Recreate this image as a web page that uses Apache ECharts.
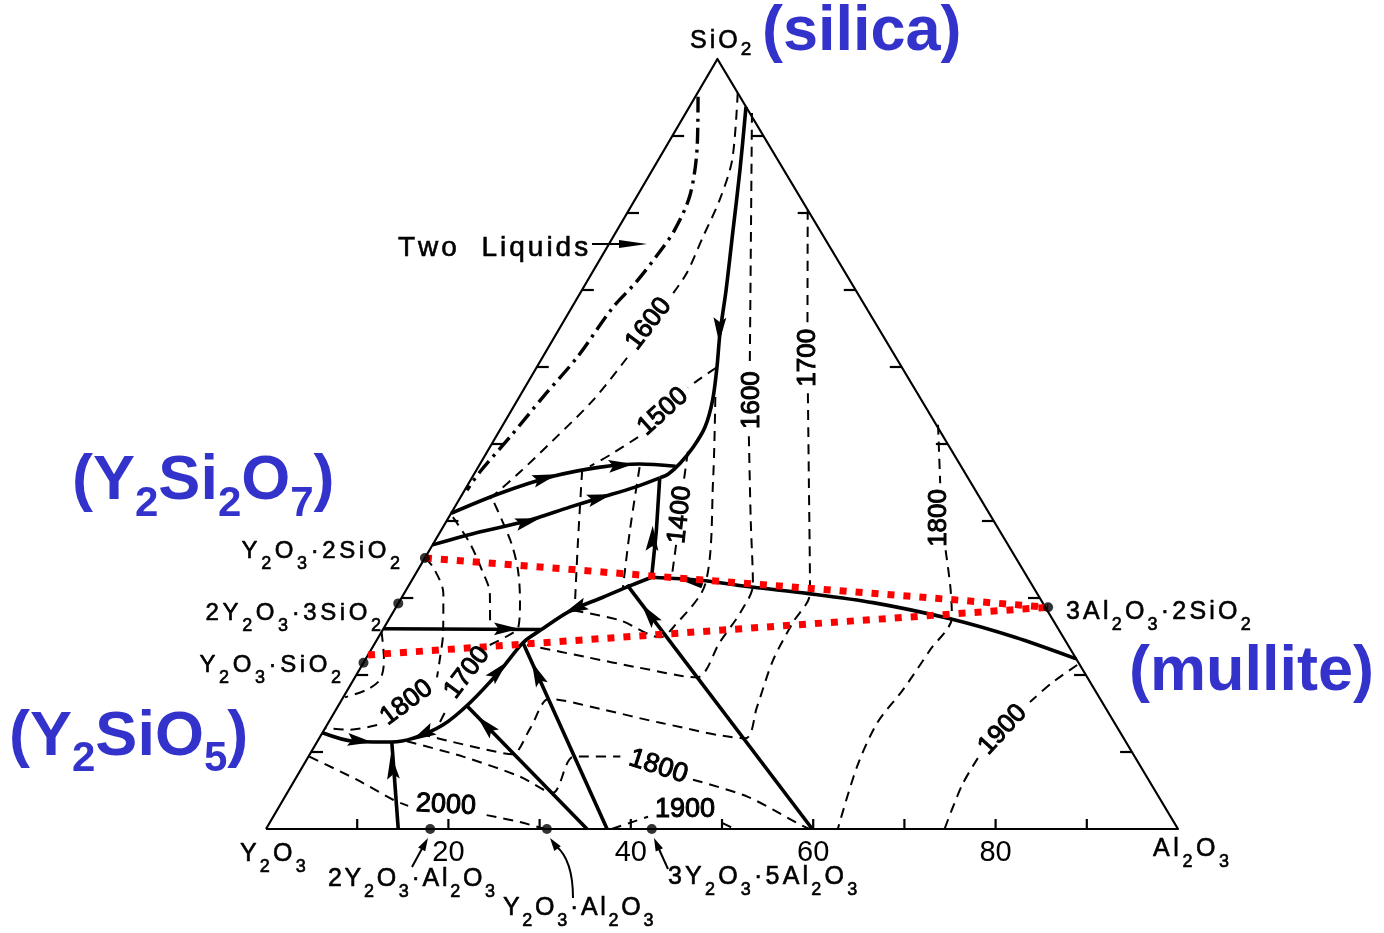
<!DOCTYPE html>
<html>
<head>
<meta charset="utf-8">
<title>Y2O3-Al2O3-SiO2 liquidus</title>
<script src="https://cdn.jsdelivr.net/npm/echarts@6.0.0/dist/echarts.min.js"></script>
<style>
html,body{margin:0;padding:0;background:#ffffff;}
#chart{width:1384px;height:933px;}
</style>
</head>
<body>
<div id="chart"></div>
<script>
// ===== DATA: compositions in wt% as [Al2O3, SiO2]; Y2O3 is the remainder =====
const sideTicks = [10, 20, 30, 40, 50, 60, 70, 80, 90];
const axisTickLabels = [20, 40, 60, 80];

const compoundComp = [[0, 35.2], [0, 29.3], [0, 21.6], [18.0, 0], [30.8, 0], [42.3, 0], [71.5, 28.8]];
const tieUpper = [[0, 35.2], [71.5, 28.8]];
const tieLower = [[0, 22.6], [71.5, 28.8]];

// solid boundary curves
const bSilica = [[6.2, 93.8], [9.6, 85.6], [12.7, 77.8], [15.8, 70.0], [17.9, 64.4], [19.75, 60.0], [21.4, 55.7], [22.3, 52.2], [22.3, 49.6], [21.9, 47.5], [21.3, 46.1], [20.6, 45.6]];
const bUpper = [[0, 41.0], [4.1, 43.6], [8.8, 45.8], [13.4, 47.0], [17.5, 47.4], [21.6, 47.1]];
const bLower = [[0, 36.9], [4.4, 38.6], [8.8, 40.0], [12.6, 41.8], [15.3, 43.0], [18.5, 44.4], [20.6, 45.6]];
const bRise = [[26.1, 32.7], [23.6, 38.8], [20.6, 45.6]];
const bHoriz = [[0, 26.0], [17.3, 25.9]];
const bCurve = [[0, 12.5], [3.9, 11.4], [8.2, 11.3], [10.3, 11.8], [12.7, 13.5], [14.25, 16.4], [15.5, 20.6], [16.2, 24.2], [17.3, 25.8], [19.3, 28.3], [22.05, 30.1], [24.3, 31.6], [26.1, 32.7]];
const bMullite = [[26.1, 32.7], [31.6, 32.3], [37.9, 31.4], [44.2, 30.6], [52.0, 29.4], [61.5, 27.3], [69.8, 24.9], [77.9, 22.1]];
const bY2O3 = [[14.5, 0], [8.2, 11.3]];
const bLineA = [[35.2, 0], [14.1, 16.0]];
const bLineB = [[37.4, 0], [16.2, 24.2]];
const bLineC = [[59.9, 0], [23.9, 31.7]];
const bWedge = [[29.85, 32.5], [32.2, 31.6]];

// two-liquid dome (dash-dot)
const twoLiquid = [[0.3, 95.1], [3.6, 88.2], [5.75, 82.3], [6.3, 77.8], [6.0, 74.5], [5.4, 70.9], [4.5, 67.7], [3.8, 61.3], [2.6, 56.1], [1.55, 50.9], [0.5, 46.4], [0.26, 44.0]];

// isotherms (dashed), split where the temperature label sits
const iso1600a = [[[4.4, 95.6], [8.1, 86.9], [9.3, 81.7], [9.85, 76.9], [10.4, 72.2], [10.2, 69.6]], [[9.3, 61.2], [8.3, 55.7], [6.5, 50.5], [4.75, 46.0], [3.3, 42.9]]];
const iso1500 = [[[19.7, 59.9], [18.45, 58.2], [17.9, 57.3]], [[15.6, 50.9], [13.7, 48.6], [12.2, 47.1]]];
const iso1400 = [[[22.0, 49.0], [23.4, 45.3]], [[26.7, 36.9], [28.3, 32.7]]];
const isoInner = [[[21.5, 56.1], [26.6, 45.3], [32.4, 31.9], [31.7, 26.2], [30.9, 24.9], [25.4, 27.1], [19.6, 28.4]]];
const iso1600b = [[[7.25, 93.0], [15.3, 76.5], [23.2, 60.3]], [[27.7, 51.0], [33.3, 40.1], [37.7, 31.7], [38.1, 28.1], [37.75, 24.3], [37.5, 19.7], [30.3, 21.0], [24.2, 22.3], [16.8, 23.9]]];
const iso1700b = [[[19.6, 80.4], [26.8, 65.8]], [[31.4, 56.6], [37.1, 45.3], [44.5, 30.6], [44.5, 26.8], [44.75, 21.9], [46.0, 15.8], [46.7, 11.8], [36.4, 13.8], [28.9, 15.6], [22.7, 16.9], [22.5, 13.1], [22.2, 9.7], [19.1, 10.3], [14.9, 11.3], [11.0, 12.3]]];
const iso1800r = [[[47.7, 52.5], [51.7, 44.9]], [[56.6, 36.2], [59.5, 31.4], [61.6, 27.5], [61.3, 23.2], [60.9, 18.1], [60.2, 13.8], [60.8, 8.1], [62.7, 0]]];
const iso1900r = [[[78.4, 21.3], [76.8, 19.0], [75.6, 16.5]], [[73.5, 9.2], [73.5, 5.7], [74.4, 0]]];
const iso1800b = [[[9.8, 11.4], [16.95, 9.4], [24.5, 6.8], [29.1, 4.7], [29.1, 9.4], [34.2, 9.4]], [[43.65, 6.4], [50.7, 4.2], [57.8, 0.8], [59.6, 0]]];
const iso1900b = [[[37.9, 0], [39.5, 0.8], [41.1, 1.6]], [[49.6, 0.8], [51.4, 0]]];
const iso2000 = [[[0.1, 9.4], [6.8, 6.4], [12.05, 3.8], [14.1, 3.0]], [[23.3, 1.8], [27.4, 0.9], [30.6, 0]]];
const isoSilicate = [[[0, 25.6], [2.1, 21.9], [2.9, 19.4], [2.1, 18.1], [0.2, 17.1]]];
const iso1800L = [[[0, 35.2], [1.5, 34.0], [4.3, 30.6], [6.8, 25.5], [8.2, 21.9], [9.0, 19.7]], [[5.5, 13.5], [2.8, 12.9], [0, 13.1]]];
const iso1700L = [[[12.2, 13.9], [12.1, 15.5]], [[12.7, 23.9], [13.9, 24.9], [14.7, 26.2], [13.15, 29.7], [11.0, 33.6], [8.7, 36.9], [6.2, 39.9], [3.75, 42.7]]];
const isoA = [[[0.45, 40.5], [4.0, 37.1], [7.05, 33.6], [9.4, 30.6], [11.6, 26.2]]];
const isoC = [[[11.6, 46.6], [15.65, 37.5], [19.6, 28.8]]];
const isoD = [[[17.7, 47.0], [20.7, 38.8], [23.6, 31.4]]];

const isoLabelText = ['1600', '1500', '1400', '1600', '1700', '1800', '1900', '1800', '1900', '2000', '1800', '1700'];
const isoLabelComp = [[9.5, 65.6], [16.7, 54.2], [25.2, 40.8], [25.7, 55.7], [29.1, 61.2], [53.8, 40.4], [74.4, 12.9], [39.0, 8.1], [44.7, 2.5], [18.2, 3.1], [7.3, 16.4], [12.0, 20.3]];

// crystallisation-path arrows: [tail, head] compositions
const arrows = [
  [[16.9, 66.4], [18.4, 63.2]],
  [[7.1, 45.2], [9.0, 46.0]],
  [[14.4, 47.1], [16.7, 47.4]],
  [[8.0, 39.6], [9.9, 40.3]],
  [[14.4, 42.7], [16.2, 43.4]],
  [[24.45, 36.1], [22.9, 39.4]],
  [[12.2, 26.0], [14.8, 26.0]],
  [[3.5, 11.6], [5.8, 11.3]],
  [[11.8, 12.9], [10.4, 11.6]],
  [[15.0, 19.4], [15.7, 21.7]],
  [[20.5, 29.2], [18.9, 28.05]],
  [[10.7, 6.6], [8.95, 9.6]],
  [[19.1, 12.2], [15.7, 14.8]],
  [[21.0, 18.7], [18.4, 21.7]],
  [[29.9, 26.4], [26.5, 29.4]]
];

// ===== STYLE / LAYOUT =====
const FONT = 'Liberation Sans';
const BLUE = '#3333cc';
const K = 0.495;           // skew of the drawn triangle (apex position)
const TICK = 1.3;          // tick length in composition units
const isoLabelRotate = [53, 42, 84, 90, 90, 90, 47, -18, 0, -3, 37, 53];

function toXY(c) { return [c[0] + K * c[1], c[1]]; }

const series = [];
function addLine(pts, lineStyle, z, smooth) {
  series.push({
    type: 'line', data: pts.map(toXY), symbol: 'none', showSymbol: false,
    lineStyle: Object.assign({color: '#000', cap: 'butt', join: 'round'}, lineStyle),
    smooth: smooth || 0, z: z, silent: true, clip: false, animation: false
  });
}

// triangle
addLine([[0, 0], [100, 0], [0, 100], [0, 0]], {width: 2.2}, 3, 0);

// side ticks (custom segments)
const tickSegs = [];
sideTicks.forEach(t => {
  tickSegs.push(toXY([t, 0]).concat(toXY([t - K * TICK, TICK])));
  tickSegs.push(toXY([0, t]).concat(toXY([TICK, t])));
  tickSegs.push(toXY([100 - t, t]).concat(toXY([100 - t - TICK, t])));
});
series.push({
  type: 'custom', data: tickSegs, encode: {x: [0, 2], y: [1, 3]}, z: 3, silent: true, animation: false,
  renderItem: (params, api) => {
    const a = api.coord([api.value(0), api.value(1)]);
    const b = api.coord([api.value(2), api.value(3)]);
    return {type: 'line', shape: {x1: a[0], y1: a[1], x2: b[0], y2: b[1]}, style: {stroke: '#000', lineWidth: 2.2}};
  }
});

// dashed isotherms
const dash = {width: 2, type: [10, 7]};
[iso1600a, iso1500, iso1400, isoInner, iso1600b, iso1700b, iso1800r, iso1900r, iso1800b, iso1900b, iso2000, isoSilicate, iso1800L, iso1700L, isoA, isoC, isoD]
  .forEach(iso => iso.forEach(seg => addLine(seg, dash, 2, 0.3)));

// two liquids
addLine(twoLiquid, {width: 3.4, type: [16, 6, 3, 6]}, 2, 0.3);

// boundaries
const solid = {width: 3.6};
addLine(bSilica, solid, 4, 0.3);
addLine(bUpper, solid, 4, 0.3);
addLine(bLower, solid, 4, 0.3);
addLine(bRise, solid, 4, 0);
addLine(bHoriz, solid, 4, 0);
addLine(bCurve, solid, 4, 0.3);
addLine(bMullite, solid, 4, 0.3);
addLine(bY2O3, solid, 4, 0);
addLine(bLineA, solid, 4, 0);
addLine(bLineB, solid, 4, 0);
addLine(bLineC, solid, 4, 0);
addLine(bWedge, {width: 5.5}, 4, 0);

// arrowheads
series.push({
  type: 'custom', z: 5, silent: true, animation: false,
  data: arrows.map(a => toXY(a[0]).concat(toXY(a[1]))), encode: {x: [0, 2], y: [1, 3]},
  renderItem: (params, api) => {
    const p0 = api.coord([api.value(0), api.value(1)]);
    const p1 = api.coord([api.value(2), api.value(3)]);
    const dx = p1[0] - p0[0], dy = p1[1] - p0[1], len = Math.hypot(dx, dy) || 1;
    const ux = dx / len, uy = dy / len, px = -uy, py = ux;
    const cx = (p0[0] + p1[0]) / 2, cy = (p0[1] + p1[1]) / 2;
    const L = 25, W = 6.4, N = 4.5;
    const tip = [cx + ux * L / 2, cy + uy * L / 2];
    const bx = cx - ux * L / 2, by = cy - uy * L / 2;
    return {type: 'polygon', shape: {points: [tip, [bx + px * W, by + py * W], [bx + ux * N, by + uy * N], [bx - px * W, by - py * W]]}, style: {fill: '#000'}};
  }
});

// tie lines (red dotted)
addLine(tieUpper, {color: '#ff0000', width: 7, type: [7, 9]}, 6, 0);
addLine(tieLower, {color: '#ff0000', width: 7, type: [7, 9]}, 6, 0);

// compound points
series.push({
  type: 'scatter', data: compoundComp.map(toXY), symbolSize: 10, itemStyle: {color: '#000'},
  z: 7, silent: true, animation: false, clip: false
});

// isotherm temperature labels
series.push({
  type: 'scatter', symbolSize: 1, itemStyle: {color: 'rgba(0,0,0,0)'}, z: 8, silent: true, animation: false, clip: false,
  data: isoLabelComp.map((c, i) => ({
    value: toXY(c),
    label: {show: true, position: 'inside', formatter: isoLabelText[i], rotate: isoLabelRotate[i],
      fontSize: (isoLabelRotate[i] > -20 && isoLabelRotate[i] < 5) ? 27 : 26, fontFamily: FONT, color: '#000',
      opacity: 1, textBorderColor: '#000', textBorderWidth: 1}
  }))
});

// ===== text annotations (graphic) =====
function richLabel(str, o) {
  const parts = [];
  let i = 0;
  while (i < str.length) {
    let ch = str[i], key = 'n';
    if (ch === '_') { key = 's'; ch = str[i + 1]; i += 2; } else { i += 1; }
    if (ch === ' ') key = 'w';
    parts.push('{' + key + '|' + ch + '}');
  }
  const text = o.gap ? parts.join('{g| }') : parts.join('');
  const base = {fontFamily: FONT, fontWeight: o.weight || 'normal', fill: o.color || '#000'};
  if (o.stroke) { base.stroke = o.color || '#000'; base.lineWidth = o.stroke; }
  return {
    text: text,
    rich: {
      n: Object.assign({}, base, {fontSize: o.fs}),
      w: Object.assign({}, base, {fontSize: o.fs}),
      s: Object.assign({}, base, {fontSize: o.sub, padding: [2 * o.drop, 0, 0, 0]}),
      g: {fontFamily: FONT, fontSize: o.sub, width: o.gap || 0}
    }
  };
}
function txt(str, x, y, align, o) {
  return {type: 'text', x: x, y: y, z: 100, silent: true,
    style: Object.assign(richLabel(str, o), {align: align, verticalAlign: 'middle'})};
}
const blueO = {fs: 63, sub: 42, drop: 22, weight: 'bold', color: BLUE};
const cmpO = {fs: 24, sub: 18, drop: 13, gap: 3.6, stroke: 0.6};
const botO = {fs: 25, sub: 18, drop: 13, gap: 2.7, stroke: 0.6};

function head(tail, tip, L, W) {
  const dx = tip[0] - tail[0], dy = tip[1] - tail[1], len = Math.hypot(dx, dy);
  const ux = dx / len, uy = dy / len, bx = tip[0] - ux * L, by = tip[1] - uy * L;
  return {type: 'polygon', z: 100, silent: true, shape: {points: [tip, [bx - uy * W, by + ux * W], [bx + uy * W, by - ux * W]]}, style: {fill: '#000'}};
}
function seg(a, b) {
  return {type: 'line', z: 100, silent: true, shape: {x1: a[0], y1: a[1], x2: b[0], y2: b[1]}, style: {stroke: '#000', lineWidth: 2}};
}

const graphics = [
  txt('SiO_2', 690, 41, 'left', {fs: 25, sub: 19, drop: 9, gap: 3, stroke: 0.6}),
  txt('(silica)', 762, 32.5, 'left', blueO),
  txt('(Y_2Si_2O_7)', 72, 482, 'left', blueO),
  txt('(Y_2SiO_5)', 9, 737.5, 'left', blueO),
  txt('(mullite)', 1129, 672.5, 'left', blueO),
  txt('Two  Liquids', 398, 248, 'left', {fs: 28, sub: 17, drop: 0, gap: 3, stroke: 0.6}),
  txt('Y_2O_3·2SiO_2', 400, 551.5, 'right', cmpO),
  txt('2Y_2O_3·3SiO_2', 381, 613.5, 'right', cmpO),
  txt('Y_2O_3·SiO_2', 341, 665, 'right', cmpO),
  txt('Y_2O_3', 240, 854, 'left', {fs: 25, sub: 18, drop: 13, gap: 3.2, stroke: 0.6}),
  txt('2Y_2O_3·Al_2O_3', 328, 879, 'left', botO),
  txt('Y_2O_3·Al_2O_3', 503, 908, 'left', botO),
  txt('3Y_2O_3·5Al_2O_3', 668, 877, 'left', {fs: 25, sub: 18, drop: 13, gap: 3.2, stroke: 0.6}),
  txt('Al_2O_3', 1153, 849, 'left', {fs: 25, sub: 18, drop: 13, gap: 3.6, stroke: 0.6}),
  txt('3Al_2O_3·2SiO_2', 1066, 612, 'left', {fs: 25, sub: 18, drop: 13, gap: 3.2, stroke: 0.6}),
  // pointers
  seg([592, 244], [622, 244]), head([592, 244], [647, 244], 28, 4),
  seg([412, 867], [424, 845]), head([412, 867], [428, 838], 13, 4),
  {type: 'bezierCurve', z: 100, silent: true, shape: {x1: 573, y1: 898, cpx1: 573, cpy1: 860, x2: 556, y2: 846}, style: {stroke: '#000', lineWidth: 2, fill: null}},
  head([560, 852], [550, 838], 13, 4),
  seg([668, 869], [658, 847]), head([668, 869], [654, 838], 13, 4)
];

const chart = echarts.init(document.getElementById('chart'));
chart.setOption({
  animation: false,
  backgroundColor: '#ffffff',
  grid: {left: 266, top: 59, width: 912, height: 770, containLabel: false},
  xAxis: {
    type: 'value', min: 0, max: 100, interval: 20,
    axisLine: {show: false}, axisTick: {show: false}, splitLine: {show: false},
    axisLabel: {formatter: v => axisTickLabels.indexOf(v) >= 0 ? String(v) : '', fontSize: 29, fontFamily: FONT, color: '#000', margin: 9}
  },
  yAxis: {type: 'value', min: 0, max: 100, show: false},
  series: series,
  graphic: graphics
});
</script>
</body>
</html>
